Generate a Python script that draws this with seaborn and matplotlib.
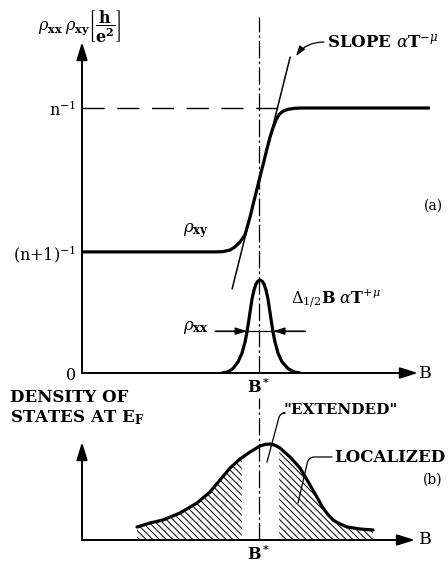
import numpy as np
import matplotlib
matplotlib.use("Agg")
import matplotlib.pyplot as plt
from matplotlib.patches import FancyArrowPatch
import seaborn as sns

# ================== DATA (read off the schematic) ==================
# magnetic field B in arbitrary units, B* = 5
B_STAR = 5.0

# (a) Hall resistivity rho_xy, in units of n^-1
rho_xy_B = [0.000, 3.333, 3.757, 3.983, 4.181, 4.322, 4.463, 4.605, 4.746, 4.887,
            5.000, 5.113, 5.226, 5.311, 5.395, 5.480, 5.565, 5.678, 5.819, 6.017,
            6.215, 9.802]
rho_xy = [0.457, 0.457, 0.457, 0.458, 0.464, 0.476, 0.494, 0.522, 0.588, 0.665,
          0.725, 0.785, 0.846, 0.890, 0.925, 0.955, 0.975, 0.988, 0.995, 0.999,
          1.000, 1.000]

# plateau levels
n_inv = 1.0
n1_inv = 0.457

# tangent ("slope") segment
slope_B = [4.24, 5.88]
slope_rho = [0.317, 1.192]

# (a) longitudinal resistivity rho_xx peak
rho_xx_B = [3.955, 4.124, 4.266, 4.407, 4.520, 4.605, 4.661, 4.718, 4.802, 4.859, 4.915,
            4.972, 5.028, 5.085, 5.141, 5.198, 5.254, 5.339, 5.395, 5.452, 5.537, 5.650,
            5.819, 5.989, 6.158]
rho_xx = [0.000, 0.004, 0.017, 0.042, 0.075, 0.117, 0.155, 0.204, 0.279, 0.313, 0.336,
          0.347, 0.351, 0.347, 0.336, 0.313, 0.279, 0.204, 0.155, 0.117, 0.075, 0.042,
          0.017, 0.004, 0.000]
half_width_level = 0.158
half_width_B = [4.66, 5.40]

# (b) density of states at E_F
dos_B = [1.554, 1.921, 2.288, 2.768, 3.249, 3.616, 3.898, 4.181, 4.463, 4.746, 5.028,
         5.169, 5.311, 5.452, 5.593, 5.876, 6.158, 6.441, 6.667, 6.808, 6.949, 7.090,
         7.232, 7.486, 7.684, 7.853, 8.220]
dos = [0.13, 0.17, 0.20, 0.27, 0.37, 0.48, 0.60, 0.72, 0.81, 0.88, 0.94,
       0.955, 0.96, 0.948, 0.92, 0.83, 0.72, 0.55, 0.41, 0.32, 0.255, 0.20,
       0.17, 0.13, 0.12, 0.11, 0.10]
extended_band = [4.52, 5.54]

# ================== STYLE ==================
sns.set_theme(style="white")
plt.rcParams["font.family"] = ["DejaVu Serif"]
plt.rcParams["mathtext.fontset"] = "dejavuserif"
plt.rcParams["hatch.linewidth"] = 0.7
plt.rcParams["hatch.color"] = "black"

W, H = 448, 570
fig = plt.figure(figsize=(W / 100, H / 100), dpi=100)
fig.patch.set_facecolor("white")

PX_PER_B = 35.4


def fp(x, y):
    # figure pixel position measured from the top-left corner
    return (x, H - y)


axis_arrow = dict(arrowstyle="-|>,head_length=0.9,head_width=0.28", color="black",
                  lw=1.4, shrinkA=0, shrinkB=0, mutation_scale=12)
small_arrow = dict(arrowstyle="-|>,head_length=0.7,head_width=0.22", color="black",
                   lw=0.9, shrinkA=0, shrinkB=0, mutation_scale=10)
dashdot = (0, (14, 2.5, 2, 2.5))

# ================== (a) RESISTIVITY PANEL ==================
ax_a = fig.add_axes([82 / W, 1 - 373 / H, 348 / W, 331 / H])
ax_a.set_xlim(0, 348 / PX_PER_B)
ax_a.set_ylim(0, 331 / 265)
for s in ax_a.spines.values():
    s.set_visible(False)
ax_a.patch.set_alpha(0)

ax_a.annotate("", xy=(0, 331 / 265), xytext=(0, 0), arrowprops=axis_arrow,
              annotation_clip=False)
ax_a.annotate("", xy=((418 - 82) / PX_PER_B, 0), xytext=(0, 0), arrowprops=axis_arrow,
              annotation_clip=False)

ax_a.plot([0, 6.1], [n_inv, n_inv], color="black", lw=1.0, ls=(0, (16, 9)))
ax_a.plot([B_STAR, B_STAR], [0, (373 - 17) / 265], color="black", lw=0.9, ls=dashdot,
          clip_on=False)

sns.lineplot(x=rho_xy_B, y=rho_xy, ax=ax_a, color="black", lw=2.3, sort=False,
             estimator=None)
sns.lineplot(x=rho_xx_B, y=rho_xx, ax=ax_a, color="black", lw=2.3, sort=False,
             estimator=None)
ax_a.plot(slope_B, slope_rho, color="black", lw=1.1)

# half width arrows
ax_a.plot([(215 - 82) / PX_PER_B, (305 - 82) / PX_PER_B],
          [half_width_level, half_width_level], color="black", lw=0.9)
ax_a.annotate("", xy=(half_width_B[0], half_width_level),
              xytext=((215 - 82) / PX_PER_B, half_width_level), arrowprops=small_arrow)
ax_a.annotate("", xy=(half_width_B[1], half_width_level),
              xytext=((305 - 82) / PX_PER_B, half_width_level), arrowprops=small_arrow)

ax_a.set_yticks([0, n1_inv, n_inv],
                ["0", r"$\mathrm{(n{+}1)^{-1}}$", r"$\mathrm{n^{-1}}$"])
ax_a.set_xticks([B_STAR], [r"$\mathbf{B^*}$"])
ax_a.tick_params(length=0, pad=4, labelsize=11.5, colors="black")
ax_a.set_xlabel("")
ax_a.set_ylabel("")

# ================== (b) DENSITY OF STATES PANEL ==================
ax_b = fig.add_axes([82 / W, 1 - 540 / H, 348 / W, 98 / H])
ax_b.set_xlim(0, 348 / PX_PER_B)
ax_b.set_ylim(0, 0.98)
for s in ax_b.spines.values():
    s.set_visible(False)
ax_b.patch.set_alpha(0)

ax_b.fill_between(dos_B, 0, dos, facecolor="white", edgecolor="black", hatch="\\" * 5,
                  lw=0, zorder=1)
ax_b.axvspan(extended_band[0], extended_band[1], ymax=0.999, color="white", zorder=2)
sns.lineplot(x=dos_B, y=dos, ax=ax_b, color="black", lw=2.3, sort=False,
             estimator=None, zorder=4)

ax_b.annotate("", xy=(0, 0.98), xytext=(0, 0), arrowprops=axis_arrow,
              annotation_clip=False, zorder=5)
ax_b.annotate("", xy=((415 - 82) / PX_PER_B, 0), xytext=(0, 0), arrowprops=axis_arrow,
              annotation_clip=False, zorder=5)
ax_b.plot([B_STAR, B_STAR], [0, (540 - 398) / 100], color="black", lw=0.9, ls=dashdot,
          clip_on=False, zorder=5)

ax_b.set_yticks([])
ax_b.set_xticks([B_STAR], [r"$\mathbf{B^*}$"])
ax_b.tick_params(length=0, pad=4, labelsize=11.5, colors="black")
ax_b.set_xlabel("")
ax_b.set_ylabel("")

# ================== TEXT AND LEADERS ==================
def label(x, y, s, ha="left", size=11, weight="normal"):
    fig.text(x / W, 1 - y / H, s, ha=ha, va="center", fontsize=size, color="black",
             fontweight=weight)


label(38, 27, r"$\rho_{\mathbf{xx}}\;\rho_{\mathbf{xy}}\left[\dfrac{\mathbf{h}}{\mathbf{e^2}}\right]$",
      size=11.5)
label(183, 231, r"$\rho_{\mathbf{xy}}$", size=12)
label(183, 328, r"$\rho_{\mathbf{xx}}$", size=12)
label(291, 299, r"$\Delta_{1/2}\mathbf{B}\ \alpha\mathbf{T}^{+\mu}$", size=11.5)
label(327, 42, r"SLOPE $\alpha\mathbf{T}^{-\mu}$", size=12, weight="bold")
label(433, 206, "(a)", ha="center", size=10)
label(419, 373, "B", size=12.5)
label(419, 540, "B", size=12.5)
label(10, 397, "DENSITY OF", size=12, weight="bold")
label(10, 418, r"STATES AT E$_\mathbf{F}$", size=12, weight="bold")
label(283, 410, '"EXTENDED"', size=11, weight="bold")
label(334, 457, "LOCALIZED", size=12, weight="bold")
label(433, 480, "(b)", ha="center", size=10)

fig.add_artist(FancyArrowPatch(
    posA=fp(324, 42), posB=fp(296, 56), transform=None,
    arrowstyle="-|>,head_length=0.6,head_width=0.2", color="black", lw=0.9,
    shrinkA=0, shrinkB=0, mutation_scale=10,
    connectionstyle="angle3,angleA=0,angleB=54"))

leader = dict(arrowstyle="-", color="black", lw=0.9, shrinkA=0, shrinkB=0)
fig.add_artist(FancyArrowPatch(
    posA=fp(283, 413), posB=fp(267, 462), transform=None,
    connectionstyle="angle,angleA=0,angleB=75,rad=5", zorder=6, **leader))
fig.add_artist(FancyArrowPatch(
    posA=fp(332, 457), posB=fp(298, 503), transform=None,
    connectionstyle="angle,angleA=0,angleB=77,rad=6", zorder=6, **leader))

fig.savefig("out.png", dpi=100, facecolor="white")
